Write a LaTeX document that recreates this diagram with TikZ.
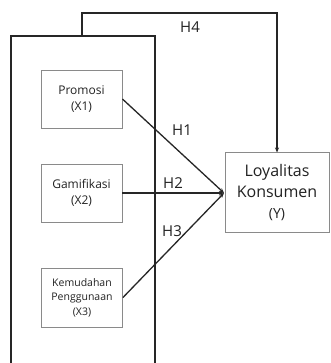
\documentclass[tikz,border=0pt]{standalone}
\usepackage{fontspec}
\setmainfont{Open Sans}
\usetikzlibrary{arrows.meta}
\definecolor{txt}{HTML}{222222}
\definecolor{boxline}{HTML}{8A8A8A}
\begin{document}
\begin{tikzpicture}[x=1pt,y=-1pt,
  varbox/.style={draw=boxline,line width=0.9pt,minimum width=81pt,text=txt,align=center,inner sep=0pt},
  ybox/.style={draw=boxline,line width=1pt,minimum width=104pt,minimum height=79pt,text=txt,align=center,inner sep=0pt},
  frame/.style={draw=black!85,line width=1.4pt},
  link/.style={draw=black!85,line width=1.3pt,-{Stealth[length=5pt,width=4pt]}},
  hlab/.style={text=txt,font=\fontsize{15}{17}\selectfont,inner sep=0pt}]
\useasboundingbox (0,0) rectangle (330,363);
\fill[white] (0,0) rectangle (330,363);
% frame
\draw[frame] (11,363) |- (155,36) -- (155,363);
\coordinate (ftop) at (82,36);
% variable boxes
\node[varbox,minimum height=58pt,font=\fontsize{12}{16}\selectfont] (x1) at (81.5,99) {Promosi\\(X1)};
\node[varbox,minimum height=58pt,font=\fontsize{12}{16}\selectfont] (x2) at (81.5,193) {Gamifikasi\\(X2)};
\node[varbox,minimum height=59pt,font=\fontsize{10.5}{14.5}\selectfont] (x3) at (82,297.5) {Kemudahan\\Penggunaan\\(X3)};
\node[ybox,font=\fontsize{16}{21}\selectfont] (y) at (277,192.5) {Loyalitas\\Konsumen\\{\fontsize{14}{18}\selectfont(Y)}};
\coordinate (c) at (224,193);
% arrows
\draw[link] (x1.east) -- (c);
\draw[link] (x2.east) -- (c);
\draw[link] (x3.east) -- (c);
\draw[link] (ftop) -- (82,13) -| (y.north);
% labels
\node[hlab] (h4) at (190,27) {H4};
\node[hlab] (h1) at (182,130) {H1};
\node[hlab] (h2) at (173,183) {H2};
\node[hlab] (h3) at (172,231) {H3};
\end{tikzpicture}
\end{document}
